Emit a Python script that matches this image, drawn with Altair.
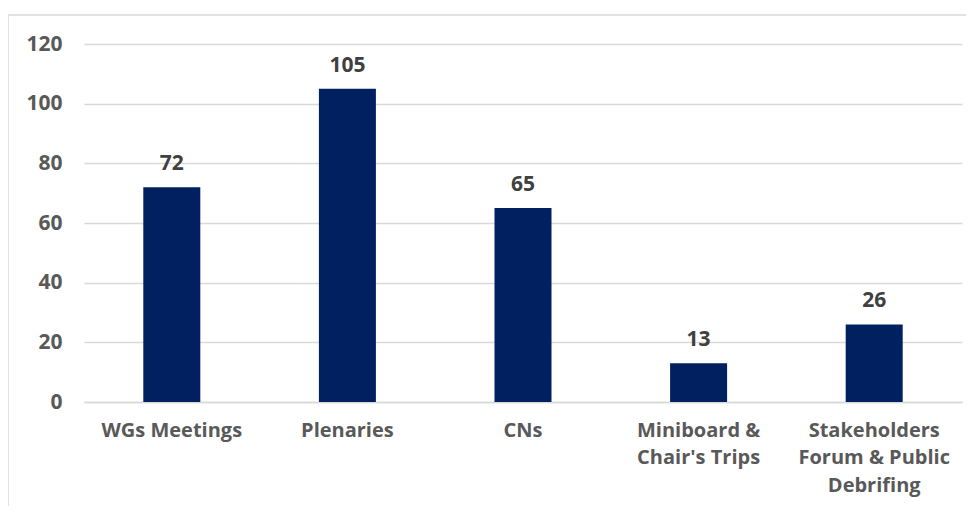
import altair as alt
import pandas as pd

categories = ["WGs Meetings", "Plenaries", "CNs", "Miniboard & Chair's Trips",
              "Stakeholders Forum & Public Debrifing"]
label_lines = [["WGs Meetings"], ["Plenaries"], ["CNs"], ["Miniboard &", "Chair's Trips"],
               ["Stakeholders", "Forum & Public", "Debrifing"]]
values = [72, 105, 65, 13, 26]

df = pd.DataFrame({"cat": categories, "value": values})

FONT = "Open Sans"
PW, PH = 878, 358

label_expr = "{" + ", ".join(
    f"{c!r}: {l!r}" for c, l in zip(categories, label_lines)
) + "}[datum.value]"

x = alt.X("cat:N", sort=categories, title=None,
          scale=alt.Scale(paddingInner=0, paddingOuter=0),
          axis=alt.Axis(labelAngle=0, labelFont=FONT, labelFontSize=20, labelFontWeight="bold",
                        labelColor="#595959", ticks=False, domain=True, domainColor="#d9d9d9",
                        domainWidth=1.5, labelPadding=18, labelLineHeight=27.5,
                        labelExpr=label_expr, labelLimit=300))
y = alt.Y("value:Q", title=None,
          scale=alt.Scale(domain=[0, 120], nice=False),
          axis=alt.Axis(values=[0, 20, 40, 60, 80, 100, 120], labelFont=FONT, labelFontSize=21,
                        labelFontWeight="bold", labelColor="#595959", ticks=False, domain=False,
                        gridColor="#d9d9d9", gridWidth=1.5, labelPadding=22))

bars = alt.Chart(df).mark_bar(color="#002060", size=57).encode(x=x, y=y)
text = alt.Chart(df).mark_text(font=FONT, fontSize=21, fontWeight="bold", color="#404040",
                               baseline="alphabetic", dy=-17).encode(
    x=alt.X("cat:N", sort=categories), y="value:Q", text="value:Q")

border_df = pd.DataFrame({"k": [0]})
left_border = alt.Chart(border_df).mark_rule(color="#d9d9d9", strokeWidth=1.5).encode(
    x=alt.value(-76), y=alt.value(-29), y2=alt.value(PH + 140))
top_border = alt.Chart(border_df).mark_rule(color="#d9d9d9", strokeWidth=1.5).encode(
    x=alt.value(-76), x2=alt.value(PW + 10), y=alt.value(-29))

chart = alt.layer(left_border, top_border, bars, text).properties(
    width=PW, height=PH,
    autosize=alt.AutoSizeParams(type="none"),
    padding={"left": 76, "top": 36, "right": 4, "bottom": 104},
    background="white",
).configure_view(stroke=None)

chart.save("out.html", embed_options={"renderer": "svg", "actions": False})
